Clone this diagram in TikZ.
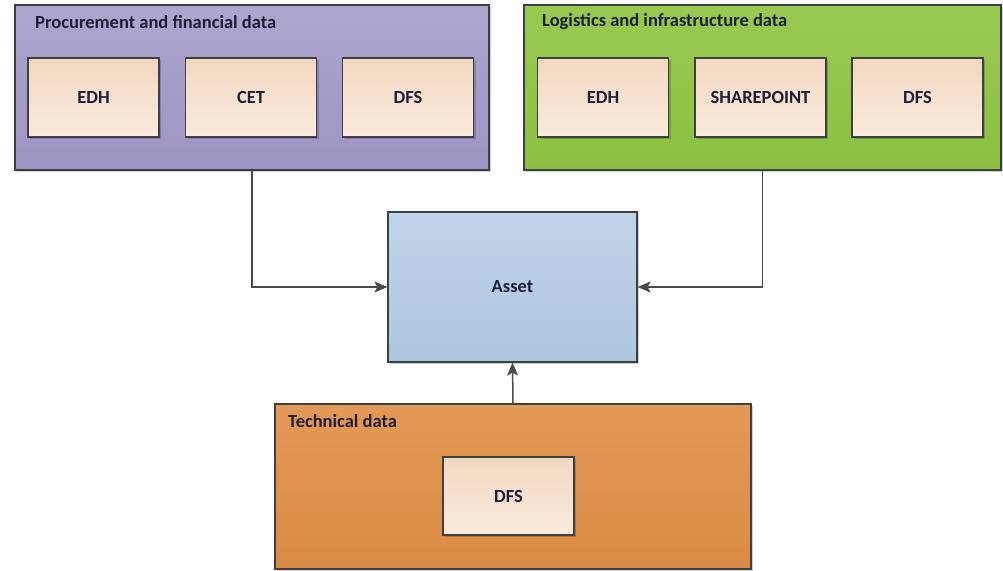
\documentclass[tikz,border=0pt]{standalone}
\usepackage{fontspec}
\setmainfont{Carlito}
\usetikzlibrary{arrows.meta,shadows}
\definecolor{edge}{HTML}{3F3F46}
\definecolor{wire}{HTML}{4A4A4A}
\definecolor{purpT}{HTML}{ADA6CF}
\definecolor{purpB}{HTML}{9D94C3}
\definecolor{grnT}{HTML}{98CA50}
\definecolor{grnB}{HTML}{8CC042}
\definecolor{orgT}{HTML}{E39A55}
\definecolor{orgB}{HTML}{DA8A42}
\definecolor{bluT}{HTML}{C0D4E8}
\definecolor{bluB}{HTML}{ADC6DF}
\definecolor{srcT}{HTML}{F3D8C1}
\definecolor{srcB}{HTML}{FAEADD}
\definecolor{ttl}{HTML}{1E1E38}
\tikzset{
  box/.style={draw=edge, line width=1.2pt, rectangle, inner sep=0pt,
    drop shadow={shadow xshift=2pt, shadow yshift=-2pt, fill=black, opacity=0.18}},
  group/.style={box, minimum height=165pt},
  lbl/.style={font=\bfseries\fontsize{18.5}{20}\selectfont, text=ttl},
  srcbox/.style={box, lbl, top color=srcT, bottom color=srcB, minimum width=131pt,
    minimum height=79pt},
  grouptitle/.style={lbl, anchor=west, inner sep=0pt},
  link/.style={draw=wire, line width=1.5pt, -{Stealth[length=13pt,width=11pt,inset=3pt]}}
}
\begin{document}
\begin{tikzpicture}[x=1pt,y=-1pt]
\useasboundingbox (0,0) rectangle (1003,570);
% groups
\node[group, top color=purpT, bottom color=purpB, minimum width=474pt] (proc) at (252,87.5) {};
\node[group, top color=grnT, bottom color=grnB, minimum width=477pt] (logi) at (762.5,87.5) {};
\node[group, top color=orgT, bottom color=orgB, minimum width=476pt] (tech) at (513,486.5) {};
\node[box, lbl, top color=bluT, bottom color=bluB, minimum width=249pt, minimum height=150pt] (asset) at (512.5,287) {Asset};
% titles
\node[grouptitle] (proct) at (35,22) {Procurement and financial data};
\node[grouptitle] (logit) at (542,22) {Logistics and infrastructure data};
\node[grouptitle] (techt) at (288,421) {Technical data};
% sources
\node[srcbox] (pedh) at (93.5,97.5) {EDH};
\node[srcbox] (pcet) at (251,97.5) {CET};
\node[srcbox] (pdfs) at (408,97.5) {DFS};
\node[srcbox] (ledh) at (603,97.5) {EDH};
\node[srcbox] (lsp) at (760.5,97.5) {SHAREPOINT};
\node[srcbox] (ldfs) at (917.5,97.5) {DFS};
\node[srcbox, minimum height=78pt] (tdfs) at (508.5,496) {DFS};
% connectors
\draw[link] (proc.south) |- (asset.west);
\draw[link] (logi.south) |- (asset.east);
\draw[link] (tech.north) -- (asset.south);
\end{tikzpicture}
\end{document}
